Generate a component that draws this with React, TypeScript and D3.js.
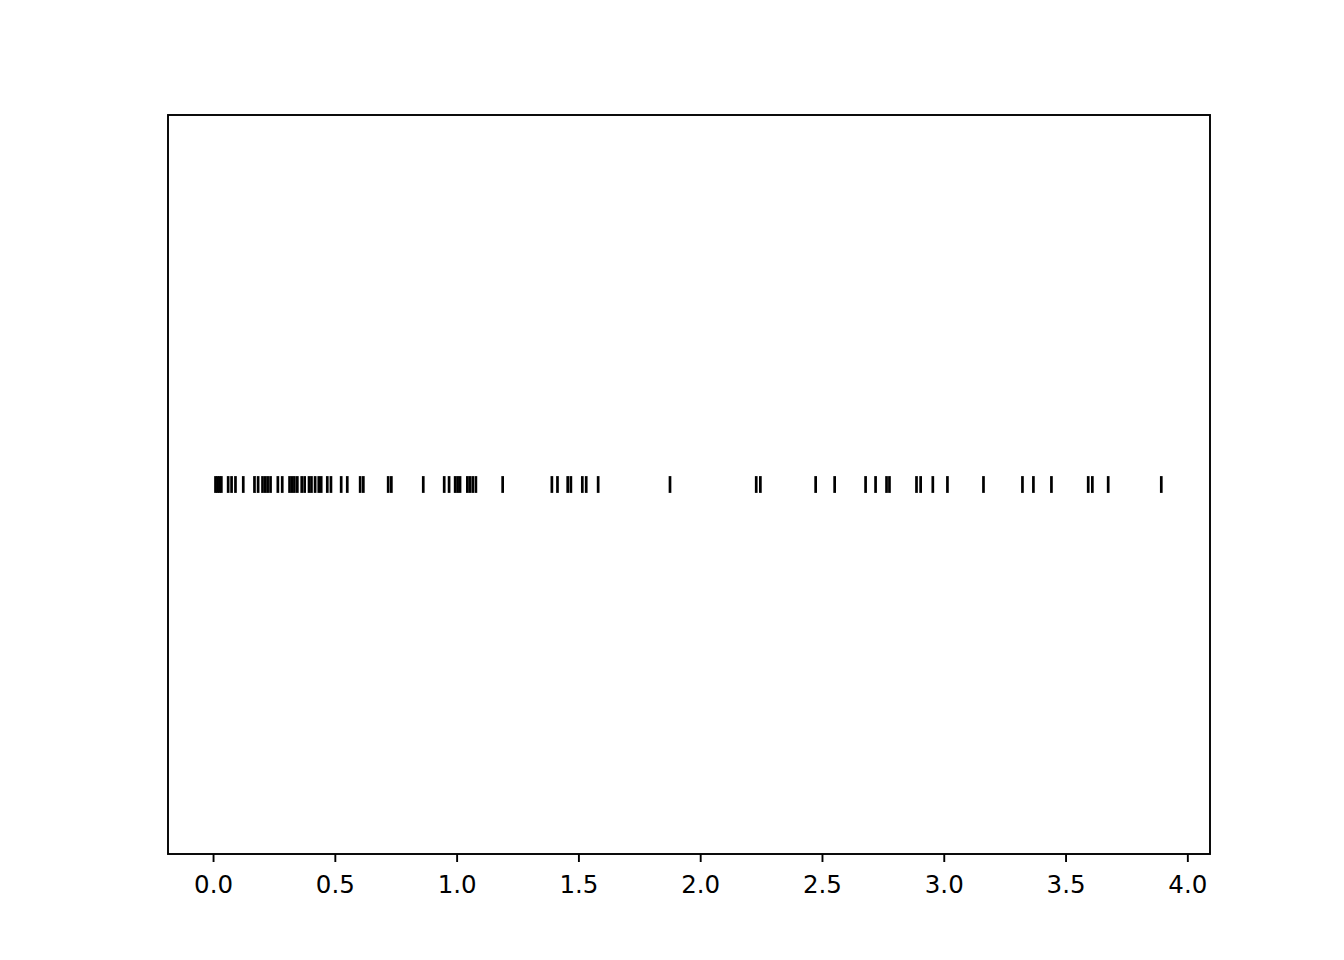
import React from "react";
import * as d3 from "d3";

const events: number[] = [
  0.008, 0.016, 0.024, 0.032, 0.06, 0.074, 0.09, 0.122,
  0.168, 0.183, 0.201, 0.212, 0.222, 0.234, 0.264, 0.282,
  0.312, 0.322, 0.332, 0.344, 0.362, 0.374, 0.392, 0.402, 0.417, 0.432, 0.442,
  0.467, 0.482, 0.524, 0.549, 0.602, 0.615, 0.717, 0.73, 0.861,
  0.947, 0.967, 0.992, 1.002, 1.012, 1.042, 1.052, 1.064, 1.077, 1.187,
  1.389, 1.412, 1.454, 1.467, 1.514, 1.53, 1.579, 1.874,
  2.228, 2.245, 2.472, 2.55, 2.677, 2.718, 2.763, 2.775,
  2.886, 2.903, 2.953, 3.013, 3.161, 3.321, 3.366, 3.44,
  3.591, 3.608, 3.673, 3.891,
];
const xTicks: number[] = [0, 0.5, 1, 1.5, 2, 2.5, 3, 3.5, 4];
const xDomain: [number, number] = [-0.187, 4.091];
const lineOffset = 0;
const lineLength = 1;

export default function App() {
  const W = 1344, H = 960;
  const left = 168, right = 1210, top = 115, bottom = 854;
  const x = d3.scaleLinear().domain(xDomain).range([left, right]);
  const y = d3.scaleLinear().domain([-22, 22]).range([bottom, top]);
  return (
    <svg width={W} height={H} style={{ position: "absolute", left: 0, top: 0, background: "#fff" }}>
      <rect x={0} y={0} width={W} height={H} fill="#fff" />
      {events.map((v, i) => (
        <line key={i} x1={x(v)} x2={x(v)} y1={y(lineOffset - lineLength / 2)} y2={y(lineOffset + lineLength / 2)}
          stroke="#000" strokeWidth={2.7} />
      ))}
      <rect x={left} y={top} width={right - left} height={bottom - top} fill="none" stroke="#000" strokeWidth={1.9} />
      {xTicks.map((t) => (
        <g key={t}>
          <line x1={x(t)} x2={x(t)} y1={bottom} y2={bottom + 8} stroke="#000" strokeWidth={1.9} />
          <text x={x(t)} y={893} textAnchor="middle" fontFamily="DejaVu Sans" fontSize={24.5} fill="#000">
            {t.toFixed(1)}
          </text>
        </g>
      ))}
    </svg>
  );
}
